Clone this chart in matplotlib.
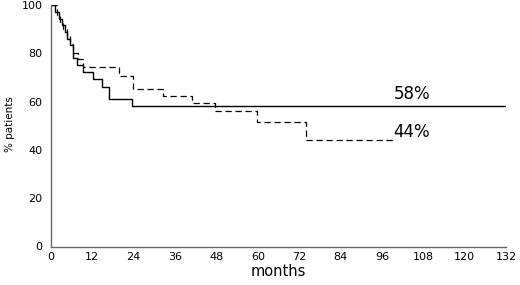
import matplotlib
matplotlib.use("Agg")
import matplotlib.pyplot as plt

plt.rcParams['font.family'] = ['DejaVu Sans']

# curva continua (58%)
solid_t = [0, 1.2, 2.3, 3.1, 4.0, 4.6, 5.5, 6.3, 7.6, 9.2, 12.1, 14.7, 16.9, 23.6, 132]
solid_v = [100, 97.2, 94.4, 91.7, 88.9, 86.1, 83.3, 78.2, 75.0, 72.2, 69.4, 66.0, 61.1, 58.3, 58.3]

# curva discontinua (44%)
dash_t = [0, 1.8, 2.6, 3.4, 4.6, 5.5, 6.4, 7.8, 9.3, 19.8, 23.8, 32.5, 40.8, 47.6, 59.8, 74.0, 99.5]
dash_v = [100, 96.0, 93.0, 90.0, 87.0, 84.0, 80.0, 77.5, 74.5, 70.5, 65.4, 62.2, 59.4, 56.2, 51.4, 44.2, 44.2]

x_ticks = list(range(0, 133, 12))
y_ticks = [0, 20, 40, 60, 80, 100]

fig = plt.figure(figsize=(5.2, 2.85), dpi=100)
ax = fig.add_axes([51 / 520, 1 - 246.5 / 285, 455 / 520, 241.5 / 285])

ax.step(solid_t, solid_v, where="post", color="black", lw=1.0)
ax.step(dash_t, dash_v, where="post", color="black", lw=0.9, linestyle=(0, (5, 3)))

ax.text(104.7, 59.3, "58%", ha="center", va="bottom", fontsize=12)
ax.text(104.5, 43.6, "44%", ha="center", va="bottom", fontsize=12)

ax.set_xlim(0, 132)
ax.set_ylim(0, 100)
ax.set_xticks(x_ticks)
ax.set_yticks(y_ticks)
ax.tick_params(length=0, labelsize=8, colors="black")
ax.tick_params(axis="x", pad=4)
ax.tick_params(axis="y", pad=6)

for side in ["top", "right"]:
    ax.spines[side].set_visible(False)
for side in ["left", "bottom"]:
    ax.spines[side].set_color("#666666")
    ax.spines[side].set_linewidth(1.0)

ax.set_xlabel("months", fontsize=10.5)
ax.xaxis.set_label_coords(0.499, -0.072)
ax.set_ylabel("% patients", fontsize=7.5)
ax.yaxis.set_label_coords(-0.08, 0.505)

fig.savefig("out.png", dpi=100)
